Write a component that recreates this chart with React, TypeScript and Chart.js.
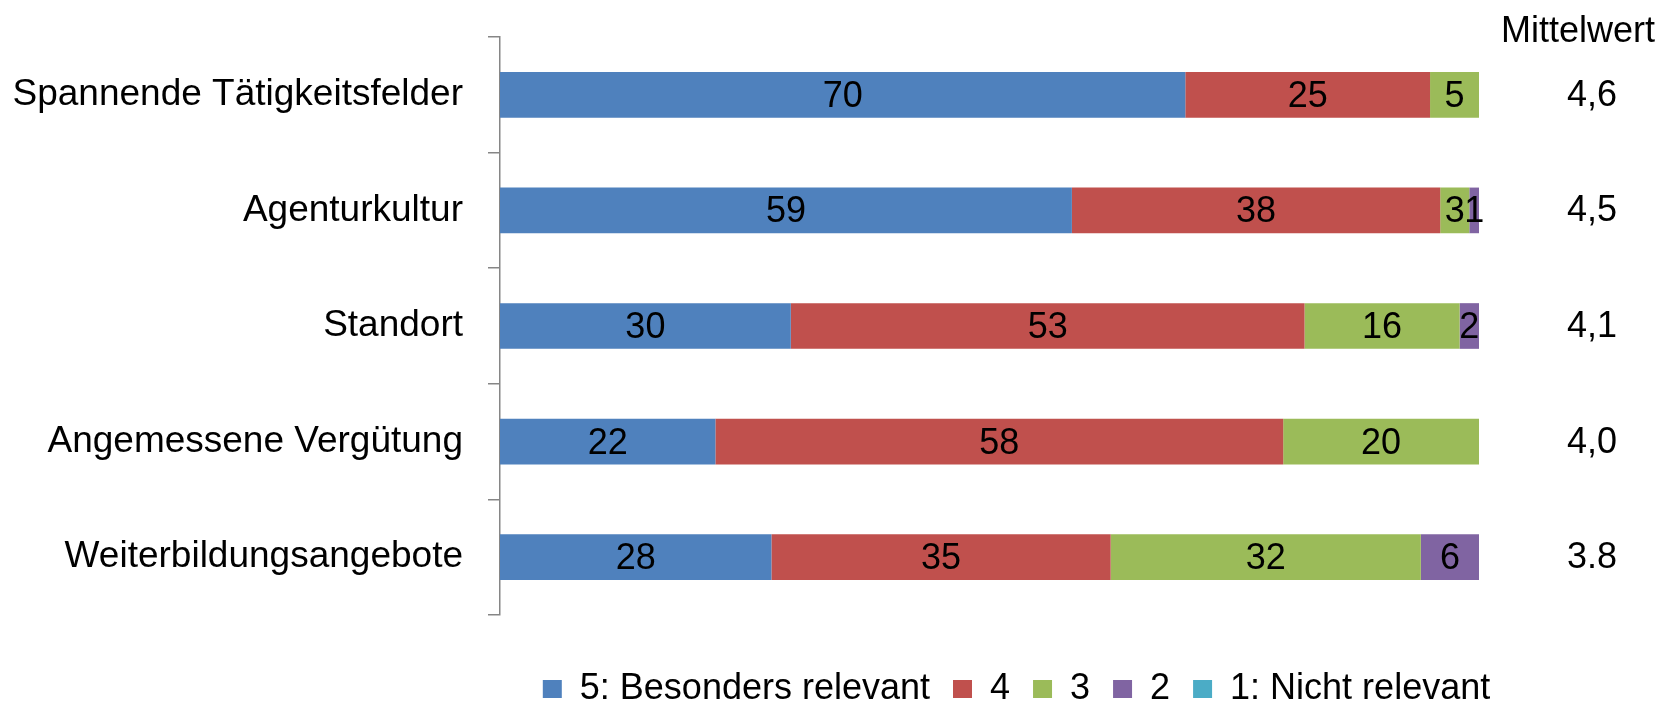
import { useEffect, useRef } from 'react';
import { Chart, registerables } from 'chart.js';

Chart.register(...registerables);

const FONT = '"Liberation Sans", Arial, Helvetica, sans-serif';

// Categories (top to bottom) and answer shares per rating step (rounded %)
const categories = [
  'Spannende Tätigkeitsfelder',
  'Agenturkultur',
  'Standort',
  'Angemessene Vergütung',
  'Weiterbildungsangebote',
];
const besondersRelevant = [70, 59, 30, 22, 28];
const stufe4 = [25, 38, 53, 58, 35];
const stufe3 = [5, 3, 16, 20, 32];
const stufe2 = [0, 1, 2, 0, 6];
const nichtRelevant = [0, 0, 0, 0, 0];
const mittelwerte = ['4,6', '4,5', '4,1', '4,0', '3.8'];

const seriesLabels = ['5: Besonders relevant', '4', '3', '2', '1: Nicht relevant'];
const seriesColors = ['#4F81BD', '#C0504D', '#9BBB59', '#8064A2', '#4BACC6'];
const series = [besondersRelevant, stufe4, stufe3, stufe2, nichtRelevant];

// 100 % stacked: each row is scaled by its own total
const rowTotals = categories.map((_, i) => series.reduce((s, arr) => s + arr[i], 0));
const shares = series.map((arr) => arr.map((v, i) => (v / rowTotals[i]) * 100));

const segmentLabels = {
  id: 'segmentLabels',
  afterDatasetsDraw(chart: any) {
    const { ctx } = chart;
    ctx.save();
    ctx.font = `36px ${FONT}`;
    ctx.fillStyle = '#000';
    ctx.textAlign = 'center';
    ctx.textBaseline = 'alphabetic';
    series.forEach((values, di) => {
      const meta = chart.getDatasetMeta(di);
      meta.data.forEach((bar: any, i: number) => {
        const v = values[i];
        if (!v) return;
        const p = bar.getCenterPoint();
        ctx.fillText(String(v), p.x, p.y + 12);
      });
    });
    ctx.restore();
  },
};

const meanColumn = {
  id: 'meanColumn',
  afterDraw(chart: any) {
    const { ctx, chartArea } = chart;
    const yScale = chart.scales.y;
    ctx.save();
    ctx.font = `36px ${FONT}`;
    ctx.fillStyle = '#000';
    ctx.textAlign = 'center';
    ctx.textBaseline = 'alphabetic';
    ctx.fillText('Mittelwert', chartArea.right + 99, chartArea.top + 5);
    mittelwerte.forEach((m, i) => {
      ctx.fillText(m, chartArea.right + 113, yScale.getPixelForValue(i) + 11);
    });
    ctx.restore();
  },
};

// Centre the legend row under the plot area (slightly right of it)
const legendShift = {
  id: 'legendShift',
  afterLayout(chart: any) {
    const lg = chart.legend;
    if (!lg) return;
    const w = lg.right - lg.left;
    const center = (chart.chartArea.left + chart.chartArea.right) / 2 + 27;
    lg.left = center - w / 2;
    lg.right = lg.left + w;
  },
};

export default function App() {
  const canvasRef = useRef<HTMLCanvasElement | null>(null);

  useEffect(() => {
    const canvas = canvasRef.current;
    if (!canvas) return;
    const chart = new Chart(canvas, {
      type: 'bar',
      data: {
        labels: categories,
        datasets: shares.map((data, i) => ({
          label: seriesLabels[i],
          data,
          backgroundColor: seriesColors[i],
          borderWidth: 0,
          barPercentage: 0.395,
          categoryPercentage: 1,
        })),
      },
      options: {
        indexAxis: 'y',
        responsive: false,
        animation: false,
        devicePixelRatio: 1,
        layout: { padding: { top: 37, right: 196, left: 0, bottom: 0 } },
        scales: {
          x: { stacked: true, min: 0, max: 100, display: false },
          y: {
            stacked: true,
            grid: {
              offset: true,
              drawOnChartArea: false,
              drawTicks: true,
              tickLength: 12,
              color: '#868686',
              lineWidth: 1.5,
            },
            border: { color: '#868686', width: 1.5 },
            ticks: { color: '#000', font: { family: FONT, size: 37 }, padding: 25 },
            afterFit(scale: any) {
              scale.width = 500;
              scale.paddingTop = 0;
              scale.paddingBottom = 0;
            },
          },
        },
        plugins: {
          tooltip: { enabled: false },
          legend: {
            position: 'bottom',
            title: { display: true, text: '', font: { size: 10 }, padding: { top: 21, bottom: 0 } },
            labels: {
              color: '#000',
              font: { family: FONT, size: 36 },
              boxWidth: 19,
              boxHeight: 18,
              padding: 23,
            },
          },
        },
      },
      plugins: [segmentLabels, meanColumn, legendShift],
    });
    return () => chart.destroy();
  }, []);

  return (
    <div
      style={{
        position: 'fixed',
        left: 0,
        top: 0,
        width: 1675,
        height: 704,
        overflow: 'hidden',
        background: '#fff',
      }}
    >
      <canvas ref={canvasRef} width={1675} height={717} style={{ display: 'block' }} />
    </div>
  );
}
